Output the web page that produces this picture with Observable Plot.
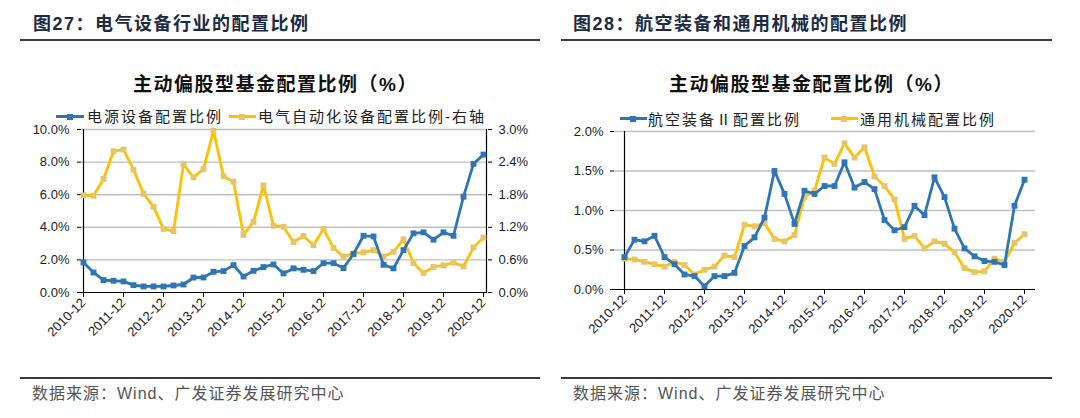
<!DOCTYPE html>
<html><head><meta charset="utf-8">
<script src="https://cdn.jsdelivr.net/npm/d3@7"></script>
<script src="https://cdn.jsdelivr.net/npm/@observablehq/plot@0.6"></script>
<style>
body{margin:0;background:#fff;}
#wrap{position:relative;width:1080px;height:418px;overflow:hidden;font-family:"Liberation Sans","Noto Sans CJK SC",sans-serif;}
.ptitle{position:absolute;top:15px;font-size:18px;line-height:18px;font-weight:bold;color:#1c2a44;letter-spacing:1.5px;white-space:nowrap;}
.hline{position:absolute;height:2px;background:#3a3a3a;}
.ctitle{position:absolute;top:75px;font-size:19px;line-height:19px;font-weight:bold;color:#111;letter-spacing:1.5px;white-space:nowrap;}
.leg{position:absolute;font-size:15px;line-height:15px;color:#222;letter-spacing:2px;white-space:nowrap;}
.sw{position:absolute;height:3px;}
.sq{position:absolute;width:6px;height:6px;}
.cap{position:absolute;top:386px;font-size:16px;line-height:16px;color:#555;letter-spacing:1px;white-space:nowrap;}
.chart{position:absolute;top:124px;}
</style></head>
<body>
<div id="wrap">
  <div class="ptitle" style="left:33px">图27：电气设备行业的配置比例</div>
  <div class="hline" style="left:20px;width:520px;top:39px"></div>
  <div class="ptitle" style="left:573px">图28：航空装备和通用机械的配置比例</div>
  <div class="hline" style="left:561px;width:491px;top:39px"></div>

  <div class="ctitle" style="left:133px">主动偏股型基金配置比例（%）</div>
  <div class="ctitle" style="left:669px">主动偏股型基金配置比例（%）</div>

  <div class="sw" style="left:56px;width:28px;top:115px;background:#2e75b6"></div>
  <div class="sq" style="left:67px;top:113.5px;background:#2e75b6"></div>
  <div class="leg" style="left:87px;top:109px">电源设备配置比例</div>
  <div class="sw" style="left:229px;width:27px;top:115px;background:#ffc000"></div>
  <div class="sq" style="left:239px;top:113.5px;background:#e6c46c"></div>
  <div class="leg" style="left:258px;top:109px">电气自动化设备配置比例-右轴</div>

  <div class="sw" style="left:620px;width:27px;top:117px;background:#2e75b6"></div>
  <div class="sq" style="left:630px;top:115.5px;background:#2e75b6"></div>
  <div class="leg" style="left:648px;top:112px">航空装备Ⅱ配置比例</div>
  <div class="sw" style="left:831px;width:27px;top:117px;background:#ffc000"></div>
  <div class="sq" style="left:841px;top:115.5px;background:#e6c46c"></div>
  <div class="leg" style="left:860px;top:112px">通用机械配置比例</div>

  <div id="c1" class="chart" style="left:0px"></div>
  <div id="c2" class="chart" style="left:540px"></div>

  <div class="hline" style="left:20px;width:520px;top:377px"></div>
  <div class="hline" style="left:561px;width:491px;top:377px"></div>
  <div class="cap" style="left:32px">数据来源：Wind、广发证券发展研究中心</div>
  <div class="cap" style="left:573px">数据来源：Wind、广发证券发展研究中心</div>
</div>
<script>
const quarters = ["2010-12","2011-03","2011-06","2011-09","2011-12","2012-03","2012-06","2012-09","2012-12",
  "2013-03","2013-06","2013-09","2013-12","2014-03","2014-06","2014-09","2014-12",
  "2015-03","2015-06","2015-09","2015-12","2016-03","2016-06","2016-09","2016-12",
  "2017-03","2017-06","2017-09","2017-12","2018-03","2018-06","2018-09","2018-12",
  "2019-03","2019-06","2019-09","2019-12","2020-03","2020-06","2020-09","2020-12"];
const yearTicks = ["2010-12","2011-12","2012-12","2013-12","2014-12","2015-12","2016-12","2017-12","2018-12","2019-12","2020-12"];

// Figure 27 (left axis, %)
const powerEquip = [1.84,1.23,0.76,0.72,0.68,0.45,0.37,0.37,0.37,0.43,0.49,0.92,0.92,1.27,1.31,1.68,0.98,1.33,1.56,1.72,
  1.17,1.48,1.39,1.31,1.80,1.80,1.50,2.36,3.48,3.44,1.70,1.48,2.60,3.63,3.69,3.24,3.69,3.48,5.88,7.89,8.46];
// Figure 27 (right axis, %)
const elecAuto = [1.79,1.78,2.09,2.60,2.63,2.26,1.82,1.58,1.17,1.13,2.36,2.12,2.27,2.98,2.14,2.04,1.06,1.30,1.97,1.23,
  1.21,0.93,1.04,0.87,1.17,0.82,0.66,0.72,0.74,0.78,0.66,0.75,0.98,0.54,0.36,0.47,0.50,0.55,0.48,0.83,1.01];

// Figure 28 (%)
const aeroEquip = [0.41,0.63,0.61,0.68,0.41,0.32,0.19,0.17,0.04,0.17,0.17,0.21,0.55,0.66,0.91,1.50,1.21,0.83,1.25,1.21,
  1.31,1.31,1.61,1.29,1.36,1.27,0.88,0.75,0.79,1.06,0.94,1.42,1.17,0.77,0.52,0.42,0.36,0.35,0.31,1.06,1.39];
const genMach = [0.39,0.38,0.35,0.32,0.29,0.35,0.31,0.19,0.25,0.29,0.43,0.41,0.82,0.80,0.84,0.64,0.61,0.69,1.17,1.25,
  1.67,1.59,1.85,1.67,1.80,1.43,1.31,1.14,0.64,0.68,0.52,0.61,0.58,0.47,0.27,0.22,0.23,0.39,0.35,0.59,0.70];

const BLUE = "#2e75b6", YELLOW = "#ffc000", YMARK = "#e6c46c";
const rowsOf = (arr, k = 1) => quarters.map((q, i) => ({q, v: arr[i] * k}));

const commonStyle = {fontFamily: "Liberation Sans, Arial, sans-serif", fontSize: "13px", color: "#222", background: "transparent", overflow: "visible"};

function series(rows, lineColor, markColor) {
  return [
    Plot.line(rows, {x: "q", y: "v", stroke: lineColor, strokeWidth: 2.8, strokeLinejoin: "round"}),
    Plot.dot(rows, {x: "q", y: "v", symbol: "square", r: 3.3, fill: markColor, stroke: "none"})
  ];
}

const xAxis = Plot.axisX({ticks: yearTicks, tickRotate: -45, tickSize: 5, tickPadding: 3, fontSize: 13, label: null, stroke: "#000"});

const p1 = Plot.plot({
  width: 540, height: 230,
  marginLeft: 81, marginRight: 53, marginTop: 5, marginBottom: 62,
  x: {type: "point", domain: quarters, padding: 0, insetRight: 3, label: null},
  y: {domain: [0, 10], label: null},
  style: commonStyle,
  marks: [
    Plot.ruleY([2, 4, 6, 8, 10], {stroke: "#c0c0c0", strokeWidth: 1.4}),
    Plot.axisY({anchor: "left", ticks: [0, 2, 4, 6, 8, 10], tickFormat: d => d.toFixed(1) + "%", tickSize: 4, tickPadding: 8, label: null, stroke: "#000"}),
    Plot.axisY({anchor: "right", ticks: [0, 2, 4, 6, 8, 10], tickFormat: d => (d * 0.3).toFixed(1) + "%", tickSize: 4, tickPadding: 7, label: null, stroke: "#000"}),
    xAxis,
    Plot.ruleX([quarters[0]], {stroke: "#000", strokeWidth: 1.2}),
    Plot.ruleX([quarters[quarters.length - 1]], {stroke: "#000", strokeWidth: 1.2, dx: 3}),
    Plot.ruleY([0], {stroke: "#000", strokeWidth: 1.2}),
    ...series(rowsOf(elecAuto, 10 / 3), YELLOW, YMARK),
    ...series(rowsOf(powerEquip), BLUE, BLUE)
  ]
});
document.getElementById("c1").appendChild(p1);

const p2 = Plot.plot({
  width: 540, height: 230,
  marginLeft: 74, marginRight: 45, marginTop: 7, marginBottom: 65,
  x: {type: "point", domain: quarters, padding: 0, insetRight: 1, label: null},
  y: {domain: [0, 2], label: null},
  style: commonStyle,
  marks: [
    Plot.ruleY([0.5, 1, 1.5, 2], {stroke: "#c0c0c0", strokeWidth: 1.4}),
    Plot.axisY({anchor: "left", ticks: [0, 0.5, 1, 1.5, 2], tickFormat: d => d.toFixed(1) + "%", tickSize: 4, tickPadding: 7, label: null, stroke: "#000"}),
    xAxis,
    Plot.ruleX([quarters[0]], {stroke: "#000", strokeWidth: 1.2}),
    Plot.ruleY([0], {stroke: "#000", strokeWidth: 1.2}),
    ...series(rowsOf(genMach), YELLOW, YMARK),
    ...series(rowsOf(aeroEquip), BLUE, BLUE)
  ]
});
document.getElementById("c2").appendChild(p2);
</script>
</body></html>
